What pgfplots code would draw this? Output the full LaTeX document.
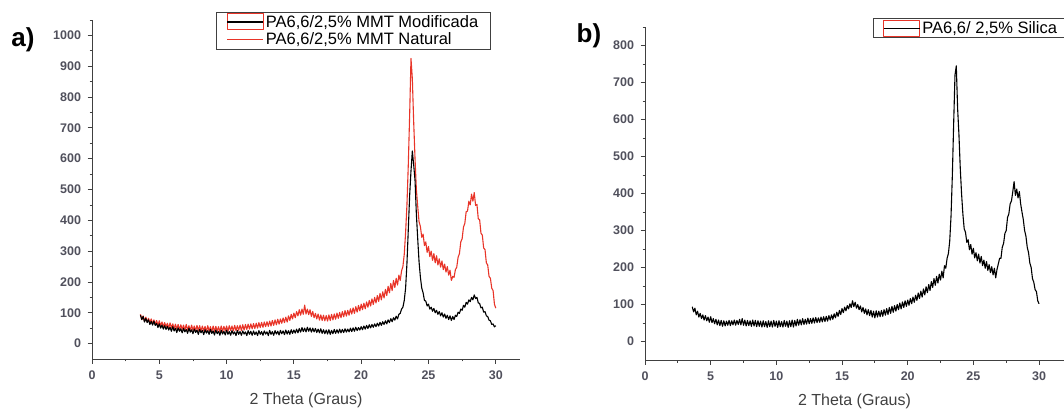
\documentclass[border=0pt]{standalone}
\usepackage{pgfplots}
\pgfplotsset{compat=1.18}
\usepackage{fontspec}
\setmainfont{Liberation Sans}
\definecolor{ored}{RGB}{232,52,40}
\definecolor{tickgray}{RGB}{80,80,92}
\pgfplotsset{
 xrdaxis/.style={
  scale only axis,
  axis x line*=bottom, axis y line*=left,
  axis line style={-, line width=0.9bp, black!75},
  tick align=outside,
  major tick length=4.5bp, minor tick length=2.5bp,
  every tick/.style={black!75, line width=0.8bp},
  tick label style={font=\fontsize{12.5bp}{14bp}\selectfont\bfseries, text=tickgray},
  yticklabel style={xshift=-3bp},
  xticklabel style={yshift=-4bp},
  /pgf/number format/assume math mode=true,
  /pgf/number format/1000 sep={},
  xtick={0,5,...,30}, minor xtick={2.5,7.5,...,27.5},
  xmin=0,
  xlabel={2 Theta (Graus)},
  xlabel style={font=\fontsize{16bp}{18bp}\selectfont, text=black!75, at={(axis description cs:0.5,0)}, anchor=center, yshift=-41bp},
  legend cell align=left,
  legend style={draw=black!75, line width=0.8bp, font=\fontsize{16.5bp}{19bp}\selectfont, inner xsep=10bp, inner ysep=1bp, nodes={inner sep=2bp}, anchor=north west},
  every axis plot/.append style={line width=1.1bp, line join=round},
 },
 oimg/.style={legend image code/.code={\draw[draw=ored, line width=1bp, fill=none] (0bp,-8bp) rectangle (36bp,8bp); \draw[draw=black, line width=1.1bp] (0bp,0bp) -- (36bp,0bp);}},
 rimg/.style={legend image code/.code={\draw[draw=ored, line width=1.3bp] (0bp,0bp) -- (36bp,0bp);}},
}
\begin{document}
\begin{tikzpicture}
\useasboundingbox (0,0) rectangle (1064bp,409bp);
\begin{axis}[xrdaxis, at={(92bp,50bp)}, anchor=south west, width=428bp, height=339bp,
  xmax=31.8, ymin=-50, ymax=1050,
  ytick={0,100,...,1000}, minor ytick={50,150,...,1050},
  legend style={at={(axis description cs:0.29,1.024)}}]
\addlegendimage{oimg}
\addlegendentry{PA6,6/2,5\% MMT Modificada}
\addlegendimage{draw=ored, rimg}
\addlegendentry{PA6,6/2,5\% MMT Natural}
\addplot[ored, forget plot] coordinates {
(3.6,95)(3.7,78)(3.8,90)(3.9,72)(4.0,86)(4.1,70)(4.2,82)(4.3,68)(4.4,80)(4.5,64)(4.6,77)(4.7,62)(4.8,75)(4.9,58)
(5.0,74)(5.1,57)(5.2,70)(5.3,55)(5.4,68)(5.5,54)(5.6,66)(5.7,50)(5.8,67)(5.9,51)(6.0,64)(6.1,48)(6.2,63)(6.3,47)
(6.4,62)(6.5,45)(6.6,61)(6.7,46)(6.8,60)(6.9,43)(7.0,62)(7.1,44)(7.2,58)(7.3,42)(7.4,60)(7.5,43)(7.6,57)(7.7,41)
(7.8,59)(7.9,42)(8.0,58)(8.1,40)(8.2,57)(8.3,41)(8.4,56)(8.5,39)(8.6,58)(8.7,40)(8.8,55)(8.9,38)(9.0,57)(9.1,39)
(9.2,56)(9.3,40)(9.4,55)(9.5,38)(9.6,57)(9.7,39)(9.8,56)(9.9,41)(10.0,57)(10.1,40)(10.2,58)(10.3,42)(10.4,57)
(10.5,41)(10.6,59)(10.7,42)(10.8,58)(10.9,43)(11.0,60)(11.1,42)(11.2,61)(11.3,44)(11.4,62)(11.5,46)(11.6,63)
(11.7,47)(11.8,64)(11.9,48)(12.0,65)(12.1,49)(12.2,66)(12.3,50)(12.4,68)(12.5,52)(12.6,69)(12.7,53)(12.8,70)
(12.9,55)(13.0,71)(13.1,56)(13.2,73)(13.3,57)(13.4,75)(13.5,59)(13.6,77)(13.7,61)(13.8,79)(13.9,63)(14.0,80)
(14.1,66)(14.2,83)(14.3,68)(14.4,86)(14.5,70)(14.6,90)(14.7,75)(14.8,95)(14.9,80)(15.0,99)(15.1,84)(15.2,104)
(15.3,90)(15.4,110)(15.5,92)(15.6,112)(15.7,95)(15.8,125)(15.9,96)(16.0,112)(16.1,94)(16.2,110)(16.3,88)
(16.4,104)(16.5,84)(16.6,98)(16.7,80)(16.8,96)(16.9,76)(17.0,93)(17.1,75)(17.2,92)(17.3,74)(17.4,91)(17.5,73)
(17.6,93)(17.7,75)(17.8,95)(17.9,77)(18.0,96)(18.1,79)(18.2,99)(18.3,82)(18.4,101)(18.5,84)(18.6,104)(18.7,87)
(18.8,107)(18.9,89)(19.0,108)(19.1,92)(19.2,113)(19.3,96)(19.4,116)(19.5,98)(19.6,120)(19.7,102)(19.8,124)
(19.9,106)(20.0,128)(20.1,110)(20.2,131)(20.3,113)(20.4,135)(20.5,118)(20.6,140)(20.7,122)(20.8,145)(20.9,127)
(21.0,150)(21.1,132)(21.2,156)(21.3,137)(21.4,163)(21.5,142)(21.6,168)(21.7,148)(21.8,176)(21.9,156)(22.0,186)
(22.1,165)(22.2,195)(22.3,172)(22.4,205)(22.5,182)(22.6,212)(22.7,190)(22.8,222)(22.9,205)(23.0,236)(23.1,250)
(23.2,290)(23.3,360)(23.4,450)(23.5,580)(23.6,740)(23.7,925)(23.8,860)(23.9,720)(24.0,600)(24.1,500)(24.2,445)
(24.3,395)(24.4,380)(24.5,345)(24.6,355)(24.7,318)(24.8,330)(24.9,296)(25.0,315)(25.1,282)(25.2,300)(25.3,270)
(25.4,292)(25.5,262)(25.6,285)(25.7,255)(25.8,275)(25.9,248)(26.0,268)(26.1,240)(26.2,258)(26.3,232)(26.4,250)
(26.5,222)(26.6,238)(26.7,205)(26.8,218)(26.9,215)(27.0,240)(27.1,248)(27.2,280)(27.3,292)(27.4,330)(27.5,340)
(27.6,378)(27.7,390)(27.8,428)(27.9,430)(28.0,462)(28.1,450)(28.2,485)(28.3,462)(28.4,490)(28.5,448)(28.6,452)
(28.7,405)(28.8,402)(28.9,358)(29.0,352)(29.1,310)(29.2,305)(29.3,262)(29.4,255)(29.5,218)(29.6,212)(29.7,180)
(29.8,172)(29.9,128)(30.0,115)};
\addplot[black, forget plot] coordinates {
(3.6,92)(3.7,78)(3.8,88)(3.9,70)(4.0,82)(4.1,68)(4.2,77)(4.3,62)(4.4,72)(4.5,60)(4.6,73)(4.7,59)(4.8,65)(4.9,52)
(5.0,64)(5.1,50)(5.2,60)(5.3,47)(5.4,58)(5.5,46)(5.6,56)(5.7,44)(5.8,53)(5.9,40)(6.0,55)(6.1,41)(6.2,50)(6.3,36)
(6.4,51)(6.5,40)(6.6,48)(6.7,35)(6.8,49)(6.9,38)(7.0,46)(7.1,33)(7.2,50)(7.3,37)(7.4,45)(7.5,32)(7.6,47)(7.7,36)
(7.8,44)(7.9,30)(8.0,46)(8.1,35)(8.2,43)(8.3,29)(8.4,45)(8.5,34)(8.6,42)(8.7,30)(8.8,46)(8.9,33)(9.0,41)(9.1,28)
(9.2,44)(9.3,32)(9.4,40)(9.5,27)(9.6,43)(9.7,31)(9.8,40)(9.9,28)(10.0,44)(10.1,30)(10.2,39)(10.3,27)(10.4,42)
(10.5,31)(10.6,38)(10.7,26)(10.8,43)(10.9,30)(11.0,39)(11.1,27)(11.2,41)(11.3,31)(11.4,38)(11.5,26)(11.6,42)
(11.7,30)(11.8,40)(11.9,27)(12.0,41)(12.1,29)(12.2,38)(12.3,26)(12.4,42)(12.5,30)(12.6,39)(12.7,27)(12.8,41)
(12.9,31)(13.0,38)(13.1,26)(13.2,43)(13.3,30)(13.4,39)(13.5,27)(13.6,42)(13.7,31)(13.8,40)(13.9,28)(14.0,43)
(14.1,32)(14.2,41)(14.3,29)(14.4,44)(14.5,31)(14.6,42)(14.7,30)(14.8,45)(14.9,33)(15.0,44)(15.1,34)(15.2,47)
(15.3,35)(15.4,49)(15.5,37)(15.6,52)(15.7,39)(15.8,50)(15.9,38)(16.0,53)(16.1,40)(16.2,51)(16.3,37)(16.4,50)
(16.5,38)(16.6,49)(16.7,36)(16.8,47)(16.9,35)(17.0,48)(17.1,33)(17.2,45)(17.3,32)(17.4,44)(17.5,31)(17.6,45)
(17.7,30)(17.8,43)(17.9,32)(18.0,46)(18.1,33)(18.2,45)(18.3,34)(18.4,47)(18.5,35)(18.6,46)(18.7,36)(18.8,48)
(18.9,37)(19.0,47)(19.1,38)(19.2,50)(19.3,39)(19.4,51)(19.5,40)(19.6,53)(19.7,42)(19.8,52)(19.9,44)(20.0,55)
(20.1,45)(20.2,57)(20.3,47)(20.4,59)(20.5,49)(20.6,61)(20.7,51)(20.8,62)(20.9,53)(21.0,64)(21.1,55)(21.2,66)
(21.3,57)(21.4,69)(21.5,59)(21.6,71)(21.7,62)(21.8,74)(21.9,64)(22.0,77)(22.1,68)(22.2,81)(22.3,71)(22.4,84)
(22.5,76)(22.6,89)(22.7,80)(22.8,95)(22.9,98)(23.0,112)(23.1,118)(23.2,140)(23.3,180)(23.4,260)(23.5,370)
(23.6,480)(23.7,560)(23.8,625)(23.9,580)(24.0,530)(24.1,420)(24.2,340)(24.3,265)(24.4,215)(24.5,180)(24.6,165)
(24.7,140)(24.8,138)(24.9,122)(25.0,128)(25.1,112)(25.2,118)(25.3,105)(25.4,114)(25.5,100)(25.6,108)(25.7,95)
(25.8,104)(25.9,90)(26.0,100)(26.1,86)(26.2,96)(26.3,82)(26.4,92)(26.5,78)(26.6,90)(26.7,75)(26.8,88)(26.9,78)
(27.0,92)(27.1,88)(27.2,102)(27.3,98)(27.4,112)(27.5,108)(27.6,124)(27.7,118)(27.8,134)(27.9,128)(28.0,142)
(28.1,136)(28.2,150)(28.3,142)(28.4,158)(28.5,146)(28.6,150)(28.7,132)(28.8,130)(28.9,116)(29.0,118)(29.1,102)
(29.2,104)(29.3,90)(29.4,88)(29.5,76)(29.6,74)(29.7,62)(29.8,64)(29.9,54)(30.0,58)};
\end{axis}
\node[font=\fontsize{26bp}{28bp}\selectfont\bfseries, anchor=base] at (23bp,362bp) {a)};
\begin{axis}[xrdaxis, at={(645bp,49bp)}, anchor=south west, width=419bp, height=333bp,
  xmax=31.9, ymin=-50, ymax=850,
  ytick={0,100,...,800}, minor ytick={50,150,...,850},
  legend style={at={(axis description cs:0.544,1.027)}}]
\addlegendimage{oimg}
\addlegendentry{PA6,6/ 2,5\% Silica}
\addplot[black, forget plot] coordinates {
(3.6,94)(3.7,80)(3.8,90)(3.9,72)(4.0,82)(4.1,66)(4.2,76)(4.3,62)(4.4,72)(4.5,58)(4.6,70)(4.7,56)(4.8,66)(4.9,52)
(5.0,67)(5.1,51)(5.2,62)(5.3,48)(5.4,60)(5.5,45)(5.6,58)(5.7,43)(5.8,57)(5.9,41)(6.0,56)(6.1,42)(6.2,55)(6.3,44)
(6.4,57)(6.5,43)(6.6,56)(6.7,45)(6.8,58)(6.9,44)(7.0,57)(7.1,46)(7.2,60)(7.3,45)(7.4,62)(7.5,44)(7.6,58)(7.7,42)
(7.8,57)(7.9,43)(8.0,56)(8.1,41)(8.2,58)(8.3,42)(8.4,57)(8.5,40)(8.6,56)(8.7,41)(8.8,55)(8.9,39)(9.0,56)(9.1,40)
(9.2,54)(9.3,38)(9.4,56)(9.5,40)(9.6,55)(9.7,39)(9.8,57)(9.9,41)(10.0,55)(10.1,38)(10.2,56)(10.3,40)(10.4,54)
(10.5,39)(10.6,57)(10.7,41)(10.8,55)(10.9,38)(11.0,56)(11.1,40)(11.2,58)(11.3,39)(11.4,57)(11.5,42)(11.6,60)
(11.7,44)(11.8,59)(11.9,45)(12.0,62)(12.1,46)(12.2,60)(12.3,47)(12.4,63)(12.5,48)(12.6,62)(12.7,49)(12.8,64)
(12.9,50)(13.0,65)(13.1,51)(13.2,64)(13.3,52)(13.4,66)(13.5,53)(13.6,67)(13.7,54)(13.8,68)(13.9,55)(14.0,70)
(14.1,58)(14.2,72)(14.3,60)(14.4,75)(14.5,64)(14.6,79)(14.7,68)(14.8,84)(14.9,73)(15.0,89)(15.1,78)(15.2,93)
(15.3,83)(15.4,97)(15.5,88)(15.6,102)(15.7,92)(15.8,110)(15.9,94)(16.0,106)(16.1,90)(16.2,100)(16.3,86)(16.4,96)
(16.5,80)(16.6,92)(16.7,76)(16.8,88)(16.9,72)(17.0,86)(17.1,70)(17.2,84)(17.3,66)(17.4,82)(17.5,64)(17.6,83)
(17.7,66)(17.8,82)(17.9,67)(18.0,84)(18.1,68)(18.2,86)(18.3,71)(18.4,89)(18.5,73)(18.6,92)(18.7,76)(18.8,95)
(18.9,79)(19.0,97)(19.1,82)(19.2,100)(19.3,86)(19.4,104)(19.5,88)(19.6,107)(19.7,92)(19.8,110)(19.9,95)
(20.0,112)(20.1,98)(20.2,116)(20.3,102)(20.4,120)(20.5,106)(20.6,125)(20.7,111)(20.8,131)(20.9,116)(21.0,136)
(21.1,120)(21.2,142)(21.3,126)(21.4,148)(21.5,132)(21.6,154)(21.7,138)(21.8,162)(21.9,146)(22.0,170)(22.1,152)
(22.2,176)(22.3,158)(22.4,182)(22.5,166)(22.6,190)(22.7,172)(22.8,205)(22.9,198)(23.0,225)(23.1,238)(23.2,272)
(23.3,340)(23.4,450)(23.5,590)(23.6,720)(23.7,745)(23.8,630)(23.9,560)(24.0,470)(24.1,400)(24.2,345)(24.3,305)
(24.4,295)(24.5,268)(24.6,275)(24.7,248)(24.8,262)(24.9,236)(25.0,252)(25.1,226)(25.2,240)(25.3,218)(25.4,236)
(25.5,212)(25.6,230)(25.7,205)(25.8,220)(25.9,198)(26.0,216)(26.1,192)(26.2,208)(26.3,186)(26.4,202)(26.5,180)
(26.6,198)(26.7,172)(26.8,195)(26.9,210)(27.0,225)(27.1,225)(27.2,255)(27.3,265)(27.4,292)(27.5,300)(27.6,335)
(27.7,345)(27.8,372)(27.9,380)(28.0,405)(28.1,432)(28.2,395)(28.3,412)(28.4,388)(28.5,405)(28.6,372)(28.7,350)
(28.8,330)(28.9,300)(29.0,285)(29.1,255)(29.2,240)(29.3,212)(29.4,200)(29.5,170)(29.6,160)(29.7,140)(29.8,135)
(29.9,110)(30.0,102)};
\end{axis}
\node[font=\fontsize{26bp}{28bp}\selectfont\bfseries, anchor=base] at (589bp,366bp) {b)};
\end{tikzpicture}
\end{document}
